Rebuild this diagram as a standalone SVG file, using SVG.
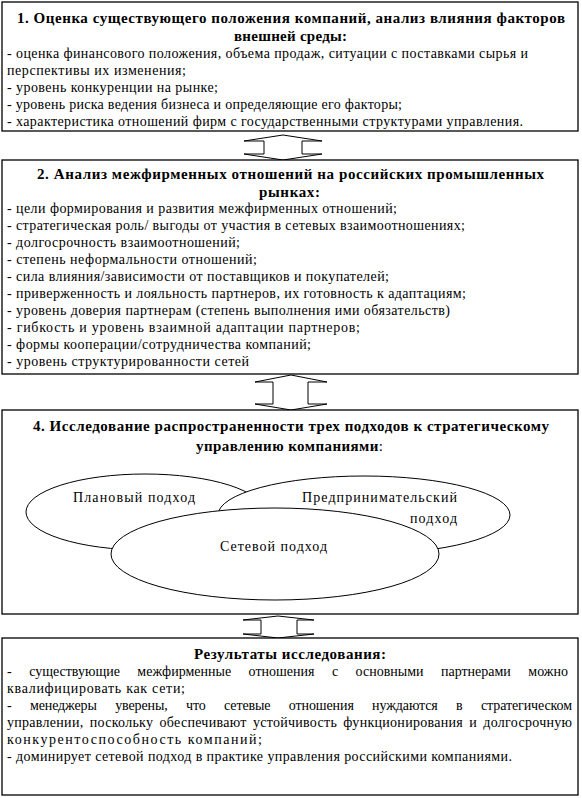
<svg xmlns="http://www.w3.org/2000/svg" width="582" height="798" viewBox="0 0 582 798">
<style>
.box{fill:#fff;stroke:#000;stroke-width:1.3}
.arr{fill:#fff;stroke:#000;stroke-width:1}
.ell{fill:#fff;stroke:#000;stroke-width:1}
.h{font-family:"Liberation Serif","DejaVu Serif","Times New Roman",serif;font-weight:bold;font-size:15px;fill:#000}
.t{font-family:"Liberation Serif","DejaVu Serif","Times New Roman",serif;font-size:14px;fill:#000}
.c{text-anchor:middle}
</style>
<rect width="582" height="798" fill="#fff"/>
<g id="connectors">
<polygon class="arr" points="283,135 322,141 302,141 302,154 322,154 283,160 244,154 264,154 264,141 244,141"/>
<polygon class="arr" points="291,375 327,382 308,382 308,404 327,404 291,410 255,404 273,404 273,382 255,382"/>
<polygon class="arr" points="278,616 314,620 297,620 297,634 314,634 278,638 243,634 261,634 261,620 243,620"/>
</g>
<g id="node1">
<rect class="box" x="2" y="2" width="576" height="129"/>
<text class="h" x="17" y="23" textLength="548">1. Оценка существующего положения компаний, анализ влияния факторов</text>
<text class="h" x="234" y="41" textLength="113">внешней среды:</text>
<text class="t" x="7" y="58" textLength="521">- оценка финансового положения, объема продаж, ситуации с поставками сырья и</text>
<text class="t" x="7" y="75" textLength="179">перспективы их изменения;</text>
<text class="t" x="7" y="92" textLength="211">- уровень конкуренции на рынке;</text>
<text class="t" x="7" y="109" textLength="395">- уровень риска ведения бизнеса и определяющие его факторы;</text>
<text class="t" x="7" y="126" textLength="516">- характеристика отношений фирм с государственными структурами управления.</text>
</g>
<g id="node2">
<rect class="box" x="2" y="160" width="576" height="214"/>
<text class="h" x="37" y="179" textLength="507">2. Анализ межфирменных отношений на российских промышленных</text>
<text class="h" x="259" y="197" textLength="61">рынках:</text>
<text class="t" x="7" y="213" textLength="390">- цели формирования и развития межфирменных отношений;</text>
<text class="t" x="7" y="230" textLength="458">- стратегическая роль/ выгоды от участия в сетевых взаимоотношениях;</text>
<text class="t" x="7" y="247" textLength="233">- долгосрочность взаимоотношений;</text>
<text class="t" x="7" y="264" textLength="250">- степень неформальности отношений;</text>
<text class="t" x="7" y="281" textLength="382">- сила влияния/зависимости от поставщиков и покупателей;</text>
<text class="t" x="7" y="298" textLength="459">- приверженность и лояльность партнеров, их готовность к адаптациям;</text>
<text class="t" x="7" y="315" textLength="443">- уровень доверия партнерам (степень выполнения ими обязательств)</text>
<text class="t" x="7" y="332" textLength="353">- гибкость и уровень взаимной адаптации партнеров;</text>
<text class="t" x="7" y="349" textLength="304">- формы кооперации/сотрудничества компаний;</text>
<text class="t" x="7" y="366" textLength="242">- уровень структурированности сетей</text>
</g>
<g id="node4">
<rect class="box" x="2" y="410" width="576" height="204"/>
<text class="h" x="33" y="431" textLength="516">4. Исследование распространенности трех подходов к стратегическому</text>
<text class="h" x="196" y="451" textLength="187">управлению компаниями<tspan font-weight="normal">:</tspan></text>
</g>
<g id="plan">
<ellipse class="ell" cx="145" cy="512" rx="119" ry="38"/>
</g>
<g id="entrepreneurial">
<ellipse class="ell" cx="364" cy="515" rx="146" ry="39"/>
</g>
<g id="network">
<ellipse class="ell" cx="275" cy="554" rx="164" ry="46"/>
</g>
<g id="labels">
<text class="t" x="73" y="502" textLength="122">Плановый подход</text>
<text class="t" x="302" y="502" textLength="155">Предпринимательский</text>
<text class="t" x="410" y="523" textLength="47">подход</text>
<text class="t" x="220" y="551" textLength="107">Сетевой подход</text>
</g>
<g id="node5">
<rect class="box" x="2" y="638" width="576" height="157"/>
<text class="h" x="194" y="659" textLength="192">Результаты исследования:</text>
<text class="t" x="7" y="676" word-spacing="14" textLength="561">- существующие межфирменные отношения с основными партнерами можно</text>
<text class="t" x="7" y="693" textLength="178">квалифицировать как сети;</text>
<text class="t" x="7" y="710" word-spacing="15" textLength="565">- менеджеры уверены, что сетевые отношения нуждаются в стратегическом</text>
<text class="t" x="7" y="727" word-spacing="2.5" textLength="565">управлении, поскольку обеспечивают устойчивость функционирования и долгосрочную</text>
<text class="t" x="7" y="744" textLength="255">конкурентоспособность компаний;</text>
<text class="t" x="7" y="761" textLength="505">- доминирует сетевой подход в практике управления российскими компаниями.</text>
</g>
</svg>
